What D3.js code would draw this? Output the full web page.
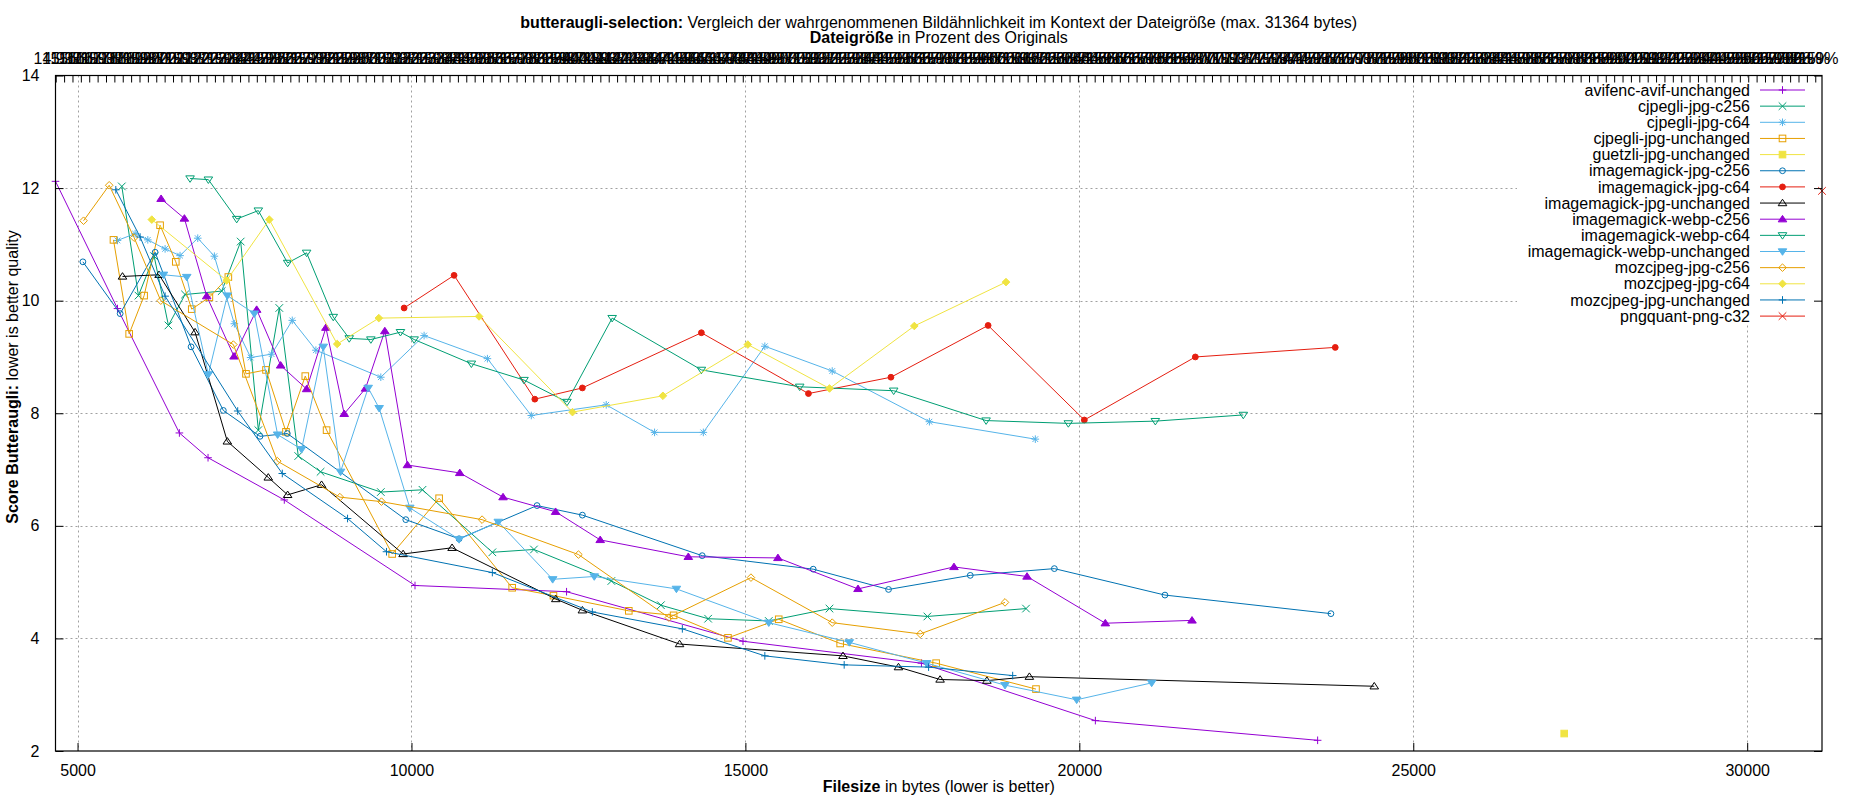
<!DOCTYPE html>
<html>
<head>
<meta charset="utf-8">
<script src="https://cdn.jsdelivr.net/npm/d3@7"></script>
<style>
body{margin:0;background:#fff;}
text{font-family:"Liberation Sans",Arial,sans-serif;}
</style>
</head>
<body>
<div id="wrapper"></div>
<script>
// Data (filesize in bytes, butteraugli score)
const maxBytes = 31364;
const seriesNames = ['avifenc-avif-unchanged','cjpegli-jpg-c256','cjpegli-jpg-c64','cjpegli-jpg-unchanged','guetzli-jpg-unchanged','imagemagick-jpg-c256','imagemagick-jpg-c64','imagemagick-jpg-unchanged','imagemagick-webp-c256','imagemagick-webp-c64','imagemagick-webp-unchanged','mozcjpeg-jpg-c256','mozcjpeg-jpg-c64','mozcjpeg-jpg-unchanged','pngquant-png-c32'];
const avifencAvifUnchanged = [[4670,12.12],[5598,9.86],[6525,7.65],[6954,7.21],[8096,6.46],[10053,4.94],[12322,4.83],[14964,3.95],[17636,3.56],[20240,2.54],[23568,2.19]];
const cjpegliC256 = [[5663,12.03],[5912,10.09],[6147,10.79],[6361,9.56],[6610,10.11],[7159,10.17],[7443,11.05],[7707,7.70],[8021,9.87],[8305,7.24],[8639,6.96],[9541,6.60],[10165,6.64],[11211,5.53],[11834,5.58],[12993,5.02],[13735,4.59],[14442,4.35],[15350,4.31],[16259,4.53],[17725,4.39],[19202,4.53]];
const cjpegliC64 = [[5598,11.07],[5862,11.19],[6052,11.08],[6311,10.92],[6535,10.80],[6800,11.11],[7049,10.79],[7348,9.59],[7592,8.99],[7906,9.05],[8215,9.65],[8569,9.12],[9541,8.64],[10189,9.38],[11137,8.97],[11794,7.96],[12916,8.15],[13640,7.66],[14370,7.66],[15291,9.19],[16300,8.75],[17755,7.85],[19341,7.54]];
const cjpegliUnchanged = [[5538,11.08],[5773,9.41],[5997,10.09],[6236,11.34],[6471,10.69],[6710,9.85],[6974,10.06],[7258,10.42],[7522,8.70],[7822,8.77],[8121,7.67],[8410,8.66],[8729,7.70],[9711,5.50],[10414,6.49],[11508,4.90],[12126,4.76],[13254,4.49],[13925,4.41],[14739,4.01],[15499,4.34],[16419,3.91],[17856,3.56],[19351,3.10]];
const guetzliUnchanged = [[27260,2.31]];
const magickJpgC256 = [[5080,10.69],[5638,9.77],[6162,10.86],[6700,9.18],[7183,8.05],[7732,7.59],[8141,7.64],[9915,6.11],[10713,5.77],[11880,6.36],[12559,6.19],[14353,5.47],[16015,5.23],[17143,4.87],[18367,5.12],[19626,5.24],[21282,4.77],[23767,4.44]];
const magickJpgC64 = [[9890,9.87],[10638,10.45],[11847,8.25],[12559,8.45],[14341,9.43],[15944,8.35],[17179,8.64],[18634,9.56],[20075,7.88],[21737,9.00],[23832,9.17]];
const magickJpgUnchanged = [[5673,10.43],[6221,10.46],[6760,9.44],[7243,7.50],[7856,6.86],[8146,6.55],[8654,6.73],[9875,5.50],[10608,5.61],[12161,4.70],[12559,4.50],[14014,3.90],[16461,3.69],[17292,3.49],[17915,3.27],[18616,3.25],[19252,3.32],[24416,3.15]];
const magickWebpC256 = [[6251,11.81],[6600,11.46],[6934,10.08],[7343,9.01],[7682,9.84],[8041,8.85],[8430,8.43],[8719,9.52],[8993,7.99],[9312,8.44],[9601,9.46],[9940,7.08],[10723,6.94],[11371,6.51],[12158,6.25],[12826,5.75],[14145,5.45],[15487,5.43],[16686,4.88],[18123,5.27],[19217,5.10],[20389,4.27],[21687,4.32]];
const magickWebpC64 = [[6685,12.17],[6959,12.15],[7383,11.45],[7707,11.60],[8146,10.67],[8430,10.85],[8829,9.71],[9068,9.33],[9392,9.31],[9835,9.44],[10040,9.31],[10897,8.88],[11685,8.59],[12328,8.20],[13005,9.69],[14341,8.77],[15813,8.47],[17220,8.40],[18604,7.87],[19835,7.82],[21138,7.86],[22455,7.97]];
const magickWebpUnchanged = [[6286,10.46],[6635,10.42],[6959,8.69],[7243,10.09],[7647,9.77],[7996,7.62],[8355,7.36],[8679,9.18],[8938,6.96],[9352,8.45],[9516,8.09],[9975,6.32],[10713,5.76],[11300,6.07],[12114,5.05],[12737,5.10],[13967,4.88],[15350,4.28],[16556,3.93],[17713,3.56],[18887,3.17],[19960,2.91],[21083,3.21]];
const mozcjpegC256 = [[5090,11.42],[5474,12.05],[5847,11.12],[6246,10.00],[7333,9.22],[7991,7.15],[8928,6.51],[9551,6.43],[11057,6.11],[12500,5.49],[13854,4.37],[15083,5.08],[16300,4.28],[17618,4.08],[18887,4.64]];
const mozcjpegC64 = [[6112,11.44],[7233,10.36],[7871,11.44],[8888,9.23],[9511,9.69],[11012,9.72],[12411,8.02],[13765,8.31],[15036,9.22],[16259,8.44],[17529,9.55],[18902,10.33]];
const mozcjpegUnchanged = [[5573,11.97],[5937,11.13],[6311,10.08],[7398,8.04],[8066,6.93],[9043,6.13],[9626,5.54],[11211,5.17],[12708,4.47],[14056,4.17],[15291,3.69],[16479,3.53],[17743,3.49],[19002,3.34]];
const pngquantC32 = [[31120,11.95]];
const seriesValues = [avifencAvifUnchanged,cjpegliC256,cjpegliC64,cjpegliUnchanged,guetzliUnchanged,magickJpgC256,magickJpgC64,magickJpgUnchanged,magickWebpC256,magickWebpC64,magickWebpUnchanged,mozcjpegC256,mozcjpegC64,mozcjpegUnchanged,pngquantC32];
const xTickValues = [5000,10000,15000,20000,25000,30000];
const yTickValues = [2,4,6,8,10,12,14];
const x2TickStart = 14.9, x2TickStep = 0.4;

// gnuplot style cycle
const colors = ['#9400d3','#009e73','#56b4e9','#e69f00','#f0e442','#0072b2','#e51e10','#000000'];
const markers = ['plus','cross','star','square','fsquare','circle','fcircle','tri','ftri','itri','fitri','diamond','fdiamond'];

function drawChart() {
const dimensions = {width:1850,height:800,margins:{top:75.5,bottom:49,left:55.5,right:28}};
dimensions.boundedWidth = dimensions.width-dimensions.margins.left-dimensions.margins.right;
dimensions.boundedHeight = dimensions.height-dimensions.margins.top-dimensions.margins.bottom;
const L = dimensions.margins.left, T = dimensions.margins.top;
const R = L+dimensions.boundedWidth, B = T+dimensions.boundedHeight;

const svg = d3.select('#wrapper').append('svg')
  .attr('width',dimensions.width).attr('height',dimensions.height)
  .style('display','block').style('background','#fff');

const xScale = d3.scaleLinear().domain([4670,31120]).range([L,R]);
const yScale = d3.scaleLinear().domain([2,14]).range([B,T]);
const x2Scale = d3.scaleLinear().domain(xScale.domain().map(v=>v/maxBytes*100)).range([L,R]);

// grid
const grid = svg.append('g').attr('stroke','#a0a0a0').attr('stroke-width',1).attr('stroke-dasharray','2,3');
grid.selectAll('.gx').data(xTickValues).enter().append('line')
  .attr('x1',d=>Math.round(xScale(d))+0.5).attr('x2',d=>Math.round(xScale(d))+0.5).attr('y1',T).attr('y2',B);
grid.selectAll('.gy').data(yTickValues.filter(v=>v>2&&v<14)).enter().append('line')
  .attr('x1',L).attr('x2',R).attr('y1',d=>Math.round(yScale(d))+0.5).attr('y2',d=>Math.round(yScale(d))+0.5);

// key background (opaque key)
const keyX = 1750, keyY = 90, keyStep = 16.15;
svg.append('rect').attr('x',1517).attr('y',keyY-10).attr('width',R-1517).attr('height',keyStep*14+19).attr('fill','#fff');

function marker(g, type, x, y, color) {
  const s = 3.8;
  const fill = type.startsWith('f') ? color : 'none';
  let el;
  switch(type) {
    case 'plus': el = g.append('path').attr('d',`M${x-s},${y}H${x+s}M${x},${y-s}V${y+s}`); break;
    case 'cross': el = g.append('path').attr('d',`M${x-s},${y-s}L${x+s},${y+s}M${x-s},${y+s}L${x+s},${y-s}`); break;
    case 'star': el = g.append('path').attr('d',`M${x-s},${y}H${x+s}M${x},${y-s}V${y+s}M${x-s*0.75},${y-s*0.75}L${x+s*0.75},${y+s*0.75}M${x-s*0.75},${y+s*0.75}L${x+s*0.75},${y-s*0.75}`); break;
    case 'square': case 'fsquare': el = g.append('rect').attr('x',x-s+0.5).attr('y',y-s+0.5).attr('width',2*s-1).attr('height',2*s-1); break;
    case 'circle': case 'fcircle': el = g.append('circle').attr('cx',x).attr('cy',y).attr('r',s-0.9); break;
    case 'tri': case 'ftri': el = g.append('path').attr('d',`M${x},${y-s}L${x+s+0.5},${y+s*0.7}L${x-s-0.5},${y+s*0.7}Z`); break;
    case 'itri': case 'fitri': el = g.append('path').attr('d',`M${x},${y+s}L${x+s+0.5},${y-s*0.7}L${x-s-0.5},${y-s*0.7}Z`); break;
    case 'diamond': case 'fdiamond': el = g.append('path').attr('d',`M${x},${y-s}L${x+s},${y}L${x},${y+s}L${x-s},${y}Z`); break;
  }
  el.attr('stroke',color).attr('stroke-width',1).attr('fill',fill);
}

// series
const line = d3.line().x(d=>xScale(d[0])).y(d=>yScale(d[1]));
seriesValues.forEach((vals,i)=>{
  const color = colors[i%colors.length];
  const mtype = markers[i%markers.length];
  const g = svg.append('g');
  if (vals.length>1) g.append('path').attr('d',line(vals)).attr('fill','none').attr('stroke',color).attr('stroke-width',1);
  vals.forEach(d=>marker(g,mtype,xScale(d[0]),yScale(d[1]),color));
  // key entry
  const ky = keyY+i*keyStep;
  svg.append('text').attr('x',keyX).attr('y',ky).attr('dy','0.35em').attr('text-anchor','end')
    .attr('font-size','16px').attr('fill','#000').text(seriesNames[i]);
  svg.append('line').attr('x1',1760).attr('x2',1805).attr('y1',ky).attr('y2',ky).attr('stroke',color).attr('stroke-width',1);
  marker(svg,mtype,1782.5,ky,color);
});

// axes
const xAxis = d3.axisBottom(xScale).tickValues(xTickValues).tickSizeInner(-8).tickSizeOuter(0).tickPadding(14).tickFormat(d3.format('d'));
const yAxis = d3.axisLeft(yScale).tickValues(yTickValues).tickSizeInner(-8).tickSizeOuter(0).tickPadding(16).tickFormat(d3.format('d'));
const yAxisRight = d3.axisRight(yScale).tickValues(yTickValues).tickSizeInner(-8).tickSizeOuter(0).tickFormat('');
const x2Axis = d3.axisTop(x2Scale).tickValues(d3.range(x2TickStart,x2Scale.domain()[1],x2TickStep)).tickSizeInner(-7).tickSizeOuter(0).tickPadding(12).tickFormat(d=>d3.format('.1f')(d)+'%');

function styleAxis(sel) {
  sel.select('.domain').remove();
  sel.selectAll('line').attr('stroke','#000');
  sel.selectAll('text').attr('font-size','16px').attr('fill','#000').style('font-family','"Liberation Sans",Arial,sans-serif');
}
svg.append('g').attr('transform',`translate(0,${B})`).call(xAxis).call(styleAxis);
svg.append('g').attr('transform',`translate(${L},0)`).call(yAxis).call(styleAxis);
svg.append('g').attr('transform',`translate(${R},0)`).call(yAxisRight).call(styleAxis);
svg.append('g').attr('transform',`translate(0,${T})`).call(x2Axis).call(styleAxis);

// border
svg.append('rect').attr('x',L).attr('y',T).attr('width',R-L).attr('height',B-T)
  .attr('fill','none').attr('stroke','#000').attr('stroke-width',1.2);

// titles
const title = svg.append('text').attr('x',(L+R)/2).attr('y',27.5).attr('text-anchor','middle').attr('font-size','16px');
title.append('tspan').attr('font-weight','bold').text('butteraugli-selection:');
title.append('tspan').text(' Vergleich der wahrgenommenen Bildähnlichkeit im Kontext der Dateigröße (max. '+maxBytes+' bytes)');
const title2 = svg.append('text').attr('x',(L+R)/2).attr('y',43).attr('text-anchor','middle').attr('font-size','16px');
title2.append('tspan').attr('font-weight','bold').text('Dateigröße');
title2.append('tspan').text(' in Prozent des Originals');

const xLabel = svg.append('text').attr('x',(L+R)/2).attr('y',791.5).attr('text-anchor','middle').attr('font-size','16px');
xLabel.append('tspan').attr('font-weight','bold').text('Filesize');
xLabel.append('tspan').text(' in bytes (lower is better)');

const yLabel = svg.append('text').attr('transform','translate(18,377) rotate(-90)').attr('text-anchor','middle').attr('font-size','16px');
yLabel.append('tspan').attr('font-weight','bold').text('Score Butteraugli:');
yLabel.append('tspan').text(' lower is better quality');
}
drawChart();
</script>
</body>
</html>
